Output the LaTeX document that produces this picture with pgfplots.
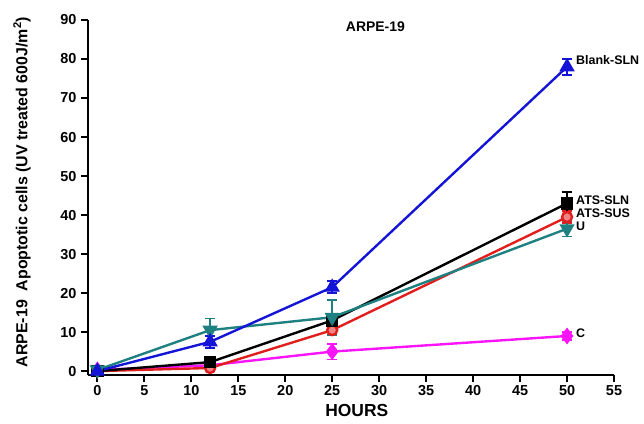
\documentclass[border=0pt]{standalone}
\usepackage{pgfplots}
\pgfplotsset{compat=1.18}
\usepackage{fontspec}
\setmainfont{Liberation Sans}
\definecolor{cblue}{RGB}{20,20,215}
\definecolor{cteal}{RGB}{30,128,128}
\definecolor{cred}{RGB}{225,30,30}
\definecolor{cmag}{RGB}{250,20,250}
\begin{document}
\begin{tikzpicture}
\begin{axis}[
  scale only axis, width=526bp, height=355bp,
  xmin=-1, xmax=55, ymin=-1, ymax=90,
  axis x line*=bottom, axis y line*=left,
  axis line style={line width=2.5pt, -},
  xtick={0,5,...,55}, ytick={0,10,...,90},
  tick align=outside, major tick length=7bp,
  tick style={line width=2.2pt, black},
  /pgf/number format/assume math mode=true,
  tick label style={font=\fontsize{14.5}{16}\selectfont\bfseries},
  yticklabel style={xshift=-1bp},
  xlabel={HOURS},
  xlabel style={font=\fontsize{17.5}{19}\selectfont\bfseries, at={(axis description cs:0.511,-0.099)}, anchor=center},
  ylabel={ARPE-19\ \ Apoptotic cells (UV treated 600J/m$^{\mathbf{2}}$)},
  ylabel style={font=\fontsize{16}{18}\selectfont\bfseries, at={(axis description cs:-0.1255,0.515)}, anchor=center},
  clip=false,
  every axis plot/.append style={line width=2.4pt, mark size=6.5bp,
    error bars/y dir=both, error bars/y explicit,
    error bars/error bar style={line width=1.8pt},
    error bars/error mark options={rotate=90, mark size=5bp, line width=1.8pt}},
]
\node[font=\fontsize{14}{16}\selectfont\bfseries] at (axis cs:29.6,88.2) {ARPE-19};
% C
\addplot[color=cmag, mark=diamond*, mark size=6.5bp, mark options={fill=cmag}] coordinates {
 (0,0.3) +- (0,0.3) (12,1.5) +- (0,0.8) (25,5) +- (0,2) (50,9) +- (0,1)};
% ATS-SUS
\addplot[color=cred, mark=*, mark size=5bp, mark options={fill=cred!55}] coordinates {
 (0,0) +- (0,0.3) (12,0.8) +- (0,0.6) (25,10.5) +- (0,1.2) (50,39.5) +- (0,1.5)};
% ATS-SLN
\addplot[color=black, mark=square*, mark size=5bp] coordinates {
 (0,0) +- (0,0.3) (12,2.3) +- (0,0.8) (25,13) +- (0,1.5) (50,43) +- (0,3)};
% U
\addplot[color=cteal, mark=triangle*, mark options={rotate=180, fill=cteal}] coordinates {
 (0,0.3) +- (0,0.3) (12,10.5) +- (0,3) (25,13.8) +- (0,4.5) (50,36.5) +- (0,2)};
% Blank-SLN
\addplot[color=cblue, mark=triangle*, mark options={fill=cblue}] coordinates {
 (0,0) +- (0,0.5) (12,7.5) +- (0,1.5) (25,21.5) +- (0,1.5) (50,78) +- (0,2)};
\begin{scope}[font=\fontsize{12.5}{14}\selectfont\bfseries]
\node[anchor=west] at (axis cs:50.6,79.7) {Blank-SLN};
\node[anchor=west] at (axis cs:50.6,43.8) {ATS-SLN};
\node[anchor=west] at (axis cs:50.6,40.5) {ATS-SUS};
\node[anchor=west] at (axis cs:50.6,37) {U};
\node[anchor=west] at (axis cs:50.6,9.7) {C};
\end{scope}
\path (rel axis cs:0,0) ++(-88bp,-48bp) (rel axis cs:1,1) ++(30bp,20bp);
\end{axis}
\end{tikzpicture}
\end{document}
